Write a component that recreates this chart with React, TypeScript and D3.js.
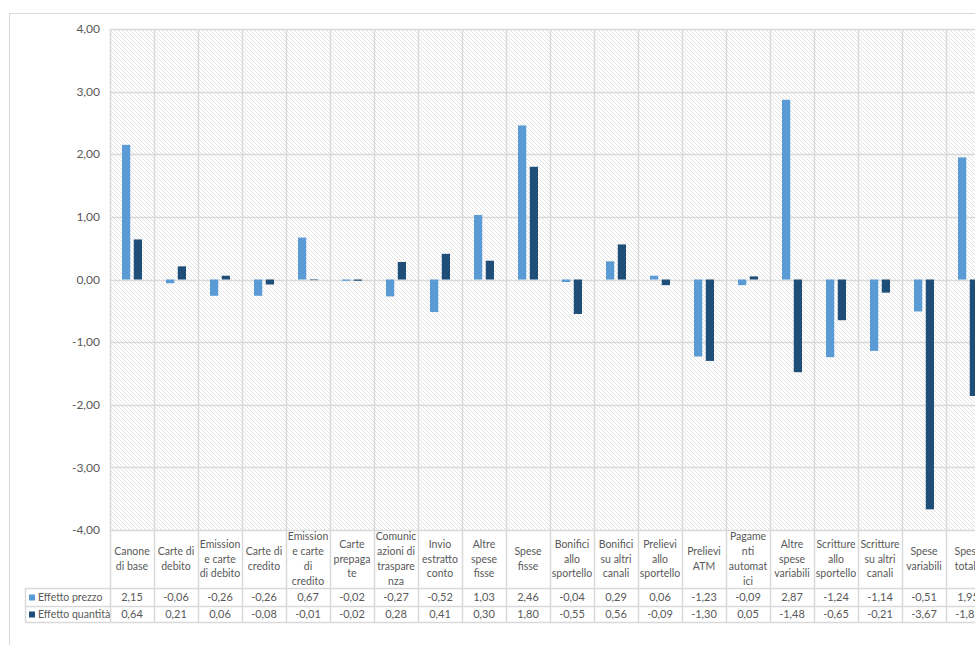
import React, { useEffect, useRef } from "react";
import * as d3 from "d3";

// category labels, already wrapped the way the spreadsheet wraps them
const categoryLabels: string[][] = [
  ["Canone", "di base"],
  ["Carte di", "debito"],
  ["Emission", "e carte", "di debito"],
  ["Carte di", "credito"],
  ["Emission", "e carte", "di", "credito"],
  ["Carte", "prepaga", "te"],
  ["Comunic", "azioni di", "traspare", "nza"],
  ["Invio", "estratto", "conto"],
  ["Altre", "spese", "fisse"],
  ["Spese", "fisse"],
  ["Bonifici", "allo", "sportello"],
  ["Bonifici", "su altri", "canali"],
  ["Prelievi", "allo", "sportello"],
  ["Prelievi", "ATM"],
  ["Pagame", "nti", "automat", "ici"],
  ["Altre", "spese", "variabili"],
  ["Scritture", "allo", "sportello"],
  ["Scritture", "su altri", "canali"],
  ["Spese", "variabili"],
  ["Spesa", "totale"],
];

const seriesNames = ["Effetto prezzo", "Effetto quantità"];

const effettoPrezzo = [
  2.15, -0.06, -0.26, -0.26, 0.67, -0.02, -0.27, -0.52, 1.03, 2.46, -0.04, 0.29,
  0.06, -1.23, -0.09, 2.87, -1.24, -1.14, -0.51, 1.95,
];
const effettoQuantita = [
  0.64, 0.21, 0.06, -0.08, -0.01, -0.02, 0.28, 0.41, 0.3, 1.8, -0.55, 0.56,
  -0.09, -1.3, 0.05, -1.48, -0.65, -0.21, -3.67, -1.86,
];

const yTicks = [4, 3, 2, 1, 0, -1, -2, -3, -4];
const colors = ["#5B9BD5", "#1F4E79"];

const App: React.FC = () => {
  const ref = useRef<SVGSVGElement>(null);

  useEffect(() => {
    if (!ref.current) return;
    const svg = d3.select(ref.current);
    svg.selectAll("*").remove();

    const font = "Lato, 'Open Sans', sans-serif";
    const textColor = "#595959";
    const lineColor = "#d9d9d9";

    const left = 110;
    const top = 29;
    const bottom = 530;
    const step = 44;
    const idx = d3.range(categoryLabels.length);

    const x = d3
      .scaleBand<number>()
      .domain(idx)
      .range([left, left + step * idx.length]);
    const x1 = d3
      .scaleBand<number>()
      .domain([0, 1])
      .range([12, 32])
      .paddingInner(0.3);
    const y = d3.scaleLinear().domain([-4, 4]).range([bottom, top]);

    // hatch pattern
    const defs = svg.append("defs");
    const pat = defs
      .append("pattern")
      .attr("id", "hatch")
      .attr("patternUnits", "userSpaceOnUse")
      .attr("width", 4)
      .attr("height", 4);
    pat.append("rect").attr("width", 4).attr("height", 4).attr("fill", "#fff");
    pat
      .append("path")
      .attr("d", "M-1,-1 L5,5 M-1,3 L1,5 M3,-1 L5,1")
      .attr("stroke", "#e2e2e2")
      .attr("stroke-width", 1);

    // outer chart border
    svg
      .append("rect")
      .attr("x", 9.5)
      .attr("y", 13.5)
      .attr("width", 1000)
      .attr("height", 700)
      .attr("fill", "#fff")
      .attr("stroke", lineColor);

    const right = x.range()[1];

    svg
      .append("rect")
      .attr("x", left)
      .attr("y", top)
      .attr("width", right - left)
      .attr("height", bottom - top)
      .attr("fill", "url(#hatch)");

    // horizontal gridlines
    svg
      .append("g")
      .selectAll("line")
      .data(yTicks)
      .join("line")
      .attr("x1", left)
      .attr("x2", right)
      .attr("y1", (d) => Math.round(y(d)) + 0.5)
      .attr("y2", (d) => Math.round(y(d)) + 0.5)
      .attr("stroke", lineColor)
      .attr("stroke-width", 1.5);

    // vertical gridlines (category boundaries), through the data table too
    const bounds = idx.map((i) => x(i)!).concat([right]);
    svg
      .append("g")
      .selectAll("line")
      .data(bounds)
      .join("line")
      .attr("x1", (d) => d + 0.5)
      .attr("x2", (d) => d + 0.5)
      .attr("y1", top)
      .attr("y2", 622)
      .attr("stroke", lineColor)
      .attr("stroke-width", 1.5);

    // y tick labels
    svg
      .append("g")
      .selectAll("text")
      .data(yTicks)
      .join("text")
      .attr("x", 100)
      .attr("y", (d) => y(d))
      .attr("dy", "0.35em")
      .attr("text-anchor", "end")
      .attr("font-family", font)
      .attr("font-size", 12)
      .attr("fill", textColor)
      .text((d) => d3.format(".2f")(d).replace(".", ",").replace("−", "-"));

    // bars
    const series = [effettoPrezzo, effettoQuantita];
    series.forEach((vals, s) => {
      svg
        .append("g")
        .selectAll("rect")
        .data(vals)
        .join("rect")
        .attr("x", (_, i) => x(i)! + x1(s)!)
        .attr("width", x1.bandwidth())
        .attr("y", (d) => y(Math.max(0, d)))
        .attr("height", (d) => Math.abs(y(d) - y(0)))
        .attr("fill", colors[s]);
    });

    // data table
    const rowTops = [588, 606, 622];
    svg
      .append("g")
      .selectAll("line")
      .data(rowTops)
      .join("line")
      .attr("x1", 25)
      .attr("x2", right)
      .attr("y1", (d) => d + 0.5)
      .attr("y2", (d) => d + 0.5)
      .attr("stroke", lineColor)
      .attr("stroke-width", 1.5);
    svg
      .append("line")
      .attr("x1", 25.5)
      .attr("x2", 25.5)
      .attr("y1", 588)
      .attr("y2", 622)
      .attr("stroke", lineColor)
      .attr("stroke-width", 1.5);

    // category labels
    const lineH = 14.8;
    const labelMid = 559;
    const cat = svg.append("g").attr("font-family", font).attr("font-size", 10.5).attr("fill", textColor).attr("text-anchor", "middle");
    categoryLabels.forEach((lines, i) => {
      const cx = x(i)! + x.bandwidth() / 2;
      const t = cat.append("text");
      lines.forEach((ln, j) => {
        t.append("tspan")
          .attr("x", cx)
          .attr("y", labelMid + (j - (lines.length - 1) / 2) * lineH)
          .attr("dy", "0.35em")
          .text(ln);
      });
    });

    // value rows
    const fmt = (v: number) => d3.format(".2f")(v).replace(".", ",").replace("−", "-");
    series.forEach((vals, s) => {
      const cy = (rowTops[s] + rowTops[s + 1]) / 2 + 0.5;
      svg
        .append("g")
        .selectAll("text")
        .data(vals)
        .join("text")
        .attr("x", (_, i) => x(i)! + x.bandwidth() / 2)
        .attr("y", cy)
        .attr("dy", "0.35em")
        .attr("text-anchor", "middle")
        .attr("font-family", font)
        .attr("font-size", 11)
        .attr("fill", textColor)
        .text((d) => fmt(d));
      svg
        .append("rect")
        .attr("x", 29)
        .attr("y", cy - 3)
        .attr("width", 6)
        .attr("height", 6)
        .attr("fill", colors[s]);
      svg
        .append("text")
        .attr("x", 38)
        .attr("y", cy)
        .attr("dy", "0.35em")
        .attr("font-family", font)
        .attr("font-size", 10.5)
        .attr("fill", textColor)
        .text(seriesNames[s]);
    });
  }, []);

  return (
    <div style={{ position: "absolute", left: 0, top: 0, width: 975, height: 645, overflow: "hidden" }}>
      <svg ref={ref} width={975} height={645} style={{ display: "block", background: "#fff" }} />
    </div>
  );
};

export default App;
